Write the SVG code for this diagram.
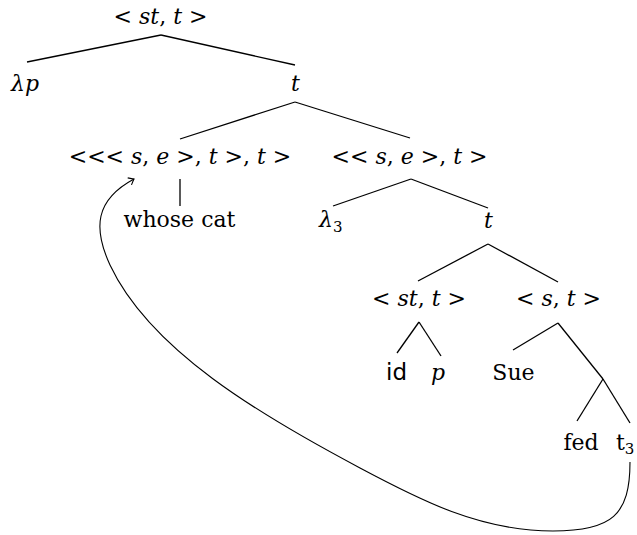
<svg xmlns="http://www.w3.org/2000/svg" width="637" height="535" viewBox="0 0 637 535">
<defs>
<marker id="tip" markerUnits="userSpaceOnUse" markerWidth="12" markerHeight="12" refX="0" refY="0" viewBox="-6 -6 12 12" orient="auto" overflow="visible">
<path d="M -5 -4 Q -1.5 -1 0 0 Q -1.5 1 -5 4" fill="none" stroke="#000" stroke-width="1.1"/>
</marker>
</defs>
<g id="connectors" stroke="#000" stroke-width="1.3">
<line x1="161" y1="35" x2="27" y2="62"/>
<line x1="161" y1="35" x2="295" y2="65"/>
<line x1="295" y1="102" x2="180" y2="139"/>
<line x1="295" y1="102" x2="410" y2="138"/>
<line x1="180" y1="179" x2="180" y2="206"/>
<line x1="411" y1="179" x2="333" y2="206"/>
<line x1="411" y1="179" x2="488" y2="208"/>
<line x1="488" y1="244" x2="418" y2="281"/>
<line x1="488" y1="244" x2="558" y2="282"/>
<line x1="419" y1="322" x2="397" y2="353"/>
<line x1="419" y1="322" x2="441" y2="356"/>
<line x1="558" y1="323" x2="513" y2="350"/>
<line x1="558" y1="323" x2="603" y2="379"/>
<line x1="603" y1="379" x2="577" y2="421"/>
<line x1="603" y1="379" x2="630" y2="423"/>
<path fill="none" stroke-width="1.1" d="M630,462 C630,515 612,531 553,531 C480,531 420,500 360,468 C260,415 150,350 110,265 C93,228 95,200 134,179" marker-end="url(#tip)"/>
</g>
<g id="n-root"><text x="160.5" y="24" text-anchor="middle" font-family="DejaVu Serif, Liberation Serif, serif" font-size="22">&lt; <tspan font-style="italic">st</tspan>, <tspan font-style="italic">t</tspan> &gt;</text></g>
<g id="n-lp"><text x="11" y="91" font-family="DejaVu Serif, Liberation Serif, serif" font-size="22" font-style="italic">&#955;p</text></g>
<g id="n-t1"><text x="291" y="91" font-family="DejaVu Serif, Liberation Serif, serif" font-size="22" font-style="italic">t</text></g>
<g id="n-sett"><text x="180" y="164" text-anchor="middle" font-family="DejaVu Serif, Liberation Serif, serif" font-size="22">&lt;&lt;&lt; <tspan font-style="italic">s</tspan>, <tspan font-style="italic">e</tspan> &gt;, <tspan font-style="italic">t</tspan> &gt;, <tspan font-style="italic">t</tspan> &gt;</text></g>
<g id="n-set"><text x="409.5" y="164" text-anchor="middle" font-family="DejaVu Serif, Liberation Serif, serif" font-size="22">&lt;&lt; <tspan font-style="italic">s</tspan>, <tspan font-style="italic">e</tspan> &gt;, <tspan font-style="italic">t</tspan> &gt;</text></g>
<g id="n-whose"><text x="179.5" y="227" text-anchor="middle" font-family="DejaVu Serif, Liberation Serif, serif" font-size="22">whose cat</text></g>
<g id="n-l3"><text x="319" y="227" font-family="DejaVu Serif, Liberation Serif, serif" font-size="22" font-style="italic">&#955;<tspan dy="5" font-style="normal" font-size="15">3</tspan></text></g>
<g id="n-t2"><text x="484" y="228" font-family="DejaVu Serif, Liberation Serif, serif" font-size="22" font-style="italic">t</text></g>
<g id="n-stt"><text x="419" y="306" text-anchor="middle" font-family="DejaVu Serif, Liberation Serif, serif" font-size="22">&lt; <tspan font-style="italic">st</tspan>, <tspan font-style="italic">t</tspan> &gt;</text></g>
<g id="n-st"><text x="558.5" y="306" text-anchor="middle" font-family="DejaVu Serif, Liberation Serif, serif" font-size="22">&lt; <tspan font-style="italic">s</tspan>, <tspan font-style="italic">t</tspan> &gt;</text></g>
<g id="n-id"><text x="396.5" y="380" text-anchor="middle" font-family="DejaVu Sans, Liberation Sans, sans-serif" font-size="23">id</text></g>
<g id="n-p"><text x="431" y="380" font-family="DejaVu Serif, Liberation Serif, serif" font-size="22" font-style="italic">p</text></g>
<g id="n-sue"><text x="513.5" y="380" text-anchor="middle" font-family="DejaVu Serif, Liberation Serif, serif" font-size="22">Sue</text></g>
<g id="n-fed"><text x="581" y="450" text-anchor="middle" font-family="DejaVu Serif, Liberation Serif, serif" font-size="22">fed</text></g>
<g id="n-t3"><text x="616" y="450" font-family="DejaVu Serif, Liberation Serif, serif" font-size="22">t<tspan dy="4" font-size="15">3</tspan></text></g>
</svg>
